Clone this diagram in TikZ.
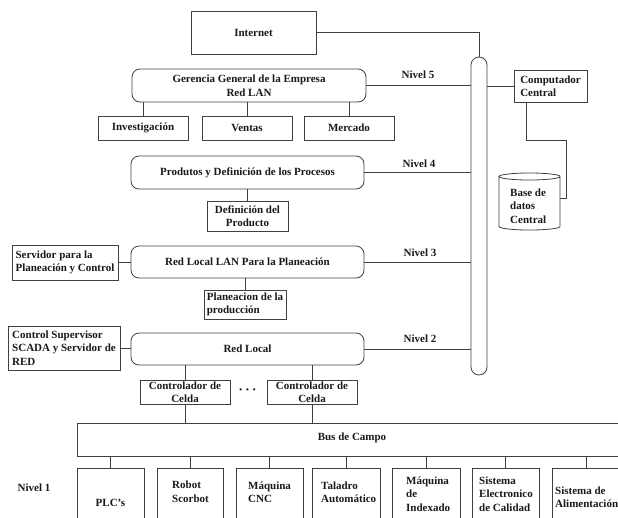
\documentclass[tikz,border=0pt]{standalone}
\usepackage{fontspec}
\setmainfont{Liberation Serif}
\begin{document}
\begin{tikzpicture}[x=1pt,y=-1pt,
  every node/.style={font=\bfseries\fontsize{11}{13.5}\selectfont, text=black!90},
  box/.style={draw=black!75, line width=0.8pt, inner sep=0pt},
  rbox/.style={box, rounded corners=8pt},
  txt/.style={inner sep=0pt, align=left, anchor=west},
  wire/.style={draw=black!75, line width=0.8pt}]
\useasboundingbox (0,0) rectangle (618,517);
\clip (0,0) rectangle (618,517);
% top
\node[box, minimum width=125, minimum height=43] (internet) at (253.5,32.5) {Internet};
\node[rbox, minimum width=234, minimum height=33, align=center] (gerencia) at (249,85.5) {Gerencia General de la Empresa\\Red LAN};
\node[box, minimum width=90, minimum height=24] (inv) at (143,128) {Investigación};
\node[box, minimum width=90, minimum height=24] (ventas) at (247,128) {Ventas};
\node[box, minimum width=90, minimum height=24] (mercado) at (349,128) {Mercado};
\node[rbox, minimum width=233, minimum height=33] (produtos) at (247.5,172.5) {Produtos y Definición de los Procesos};
\node[box, minimum width=81, minimum height=30, align=center] (defprod) at (247.5,216) {Definición del\\Producto};
\node[rbox, minimum width=233, minimum height=32] (redlan) at (247.5,262) {Red Local LAN Para la Planeación};
\node[box, minimum width=106, minimum height=35, align=left] (servidor) at (65,262.5) {Servidor para la\\Planeación y Control};
\node[box, minimum width=82, minimum height=29, align=left] (planeac) at (245,304.5) {Planeacion de la\\producción};
\node[box, minimum width=112, minimum height=44, align=left] (control) at (64,348) {Control Supervisor\\SCADA y Servidor de\\RED};
\node[rbox, minimum width=233, minimum height=32] (redlocal) at (247.5,349) {Red Local};
\node[box, minimum width=90, minimum height=24, align=center] (cel1) at (185,392) {Controlador de\\Celda};
\node[box, minimum width=90, minimum height=24, align=center] (cel2) at (312,392) {Controlador de\\Celda};
\node[inner sep=0pt, font=\bfseries\fontsize{8}{8}\selectfont] (dots) at (247.5,391) {•\ \ •\ \ •};
\node[box, minimum width=563, minimum height=33] (buscampo) at (358.5,439.5) {};
\node[inner sep=0pt] (bctext) at (352,438) {Bus de Campo};
% bus
\node[box, rounded corners=8pt, minimum width=16, minimum height=318] (bus) at (479,216) {};
\node[box, minimum width=73, minimum height=32, align=left] (comp) at (550.5,86) {Computador\\Central};
% database cylinder
\draw[wire] (499,176.5) -- (499,226.5) arc[start angle=180, end angle=0, x radius=30.5, y radius=3.5] -- (560,176.5) arc[start angle=0, end angle=-180, x radius=30.5, y radius=3.5] arc[start angle=180, end angle=0, x radius=30.5, y radius=3.5];
\coordinate (dbE) at (560,198);
\node[txt] (db) at (510,206) {Base de\\datos\\Central};
% levels
\node (n5) at (418,75) {Nivel 5};
\node (n4) at (419,164) {Nivel 4};
\node (n3) at (420,253) {Nivel 3};
\node (n2) at (420,339) {Nivel 2};
\node (n1) at (34,488) {Nivel 1};
% bottom boxes
\node[box, minimum width=67, minimum height=72] (plc) at (110.5,504) {};
\node[box, minimum width=66, minimum height=72] (robot) at (190,504) {};
\node[box, minimum width=67, minimum height=72] (cnc) at (269.5,504) {};
\node[box, minimum width=68, minimum height=72] (taladro) at (346,504) {};
\node[box, minimum width=68, minimum height=72] (indexado) at (426,504) {};
\node[box, minimum width=67, minimum height=72] (calidad) at (505.5,504) {};
\node[box, minimum width=68, minimum height=72] (aliment) at (586,504) {};
\node[inner sep=0pt] (tplc) at (110.5,503) {PLC's};
\node[txt] (trobot) at (172,491.5) {Robot\\Scorbot};
\node[txt] (tcnc) at (248,492) {Máquina\\CNC};
\node[txt] (ttaladro) at (321,492) {Taladro\\Automático};
\node[txt] (tindexado) at (406,494) {Máquina\\de\\Indexado};
\node[txt] (tcalidad) at (479,494) {Sistema\\Electronico\\de Calidad};
\node[txt] (taliment) at (555,497) {Sistema de\\Alimentación};
% connectors
\draw[wire] (internet.east) -| (bus.north);
\draw[wire] (gerencia.east) -- (gerencia.east -| bus.west);
\draw[wire] (produtos.east) -- (produtos.east -| bus.west);
\draw[wire] (redlan.east) -- (redlan.east -| bus.west);
\draw[wire] (redlocal.east) -- (redlocal.east -| bus.west);
\draw[wire] (bus.east |- comp.west) -- (comp.west);
\draw[wire] ([xshift=-24.5pt]comp.south) |- (566,140) |- (dbE);
\draw[wire] (inv.north) -- (inv.north |- gerencia.south);
\draw[wire] (ventas.north) -- (ventas.north |- gerencia.south);
\draw[wire] (mercado.north) -- (mercado.north |- gerencia.south);
\draw[wire] (defprod.north) -- (defprod.north |- produtos.south);
\draw[wire] (planeac.north) -- (planeac.north |- redlan.south);
\draw[wire] (servidor.east) -- (servidor.east -| redlan.west);
\draw[wire] (control.east) -- (control.east -| redlocal.west);
\draw[wire] (cel1.north) -- (cel1.north |- redlocal.south);
\draw[wire] (cel2.north) -- (cel2.north |- redlocal.south);
\draw[wire] (cel1.south) -- (cel1.south |- buscampo.north);
\draw[wire] (cel2.south) -- (cel2.south |- buscampo.north);
\foreach \b in {plc,robot,cnc,taladro,indexado,calidad,aliment}
  \draw[wire] (\b.north) -- (\b.north |- buscampo.south);
\end{tikzpicture}
\end{document}
